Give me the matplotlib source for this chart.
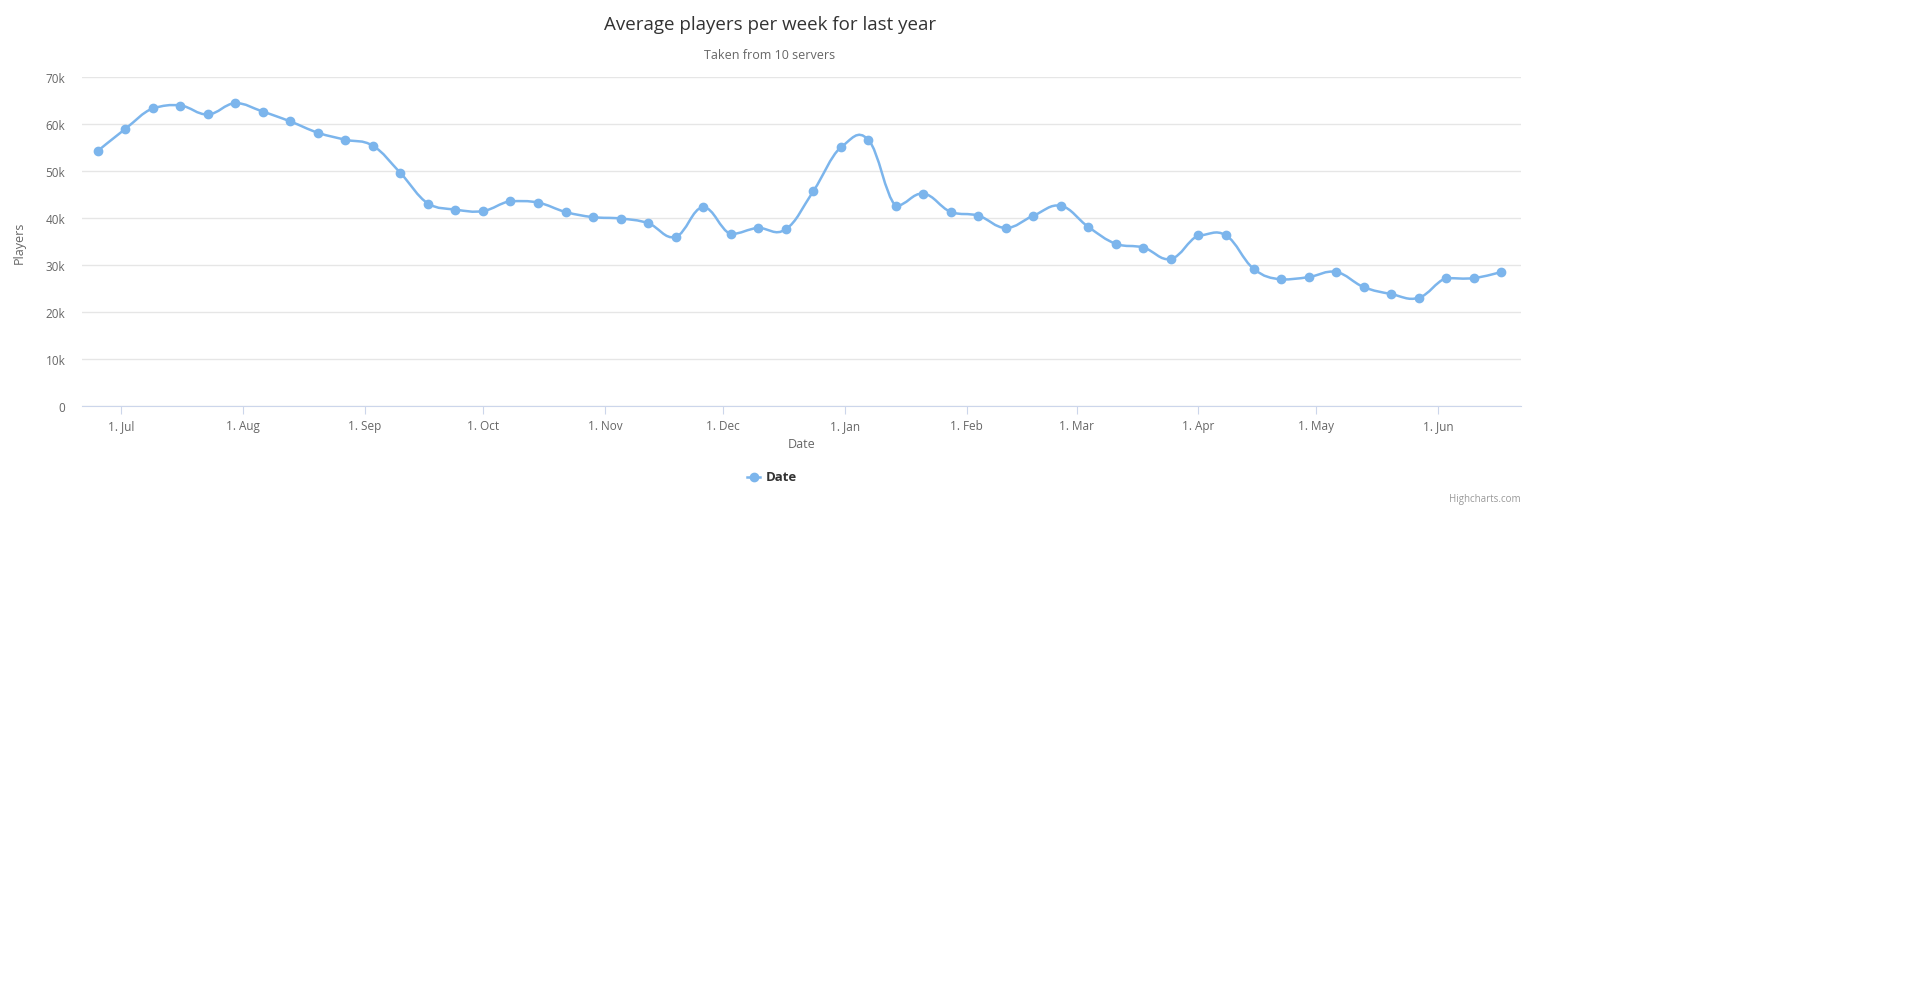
import numpy as np
import pandas as pd
import matplotlib
matplotlib.use("Agg")
import matplotlib.pyplot as plt
import matplotlib.dates as mdates
from matplotlib.path import Path
from matplotlib.patches import PathPatch

weeks = pd.date_range("2016-06-25", periods=52, freq="7D")
players = [54.3, 59.0, 63.4, 64.0, 62.1, 64.5, 62.7, 60.6, 58.2, 56.7, 55.4, 49.6,
           43.1, 41.8, 41.5, 43.6, 43.3, 41.3, 40.2, 39.9, 38.9, 36.0, 42.3, 36.6,
           37.9, 37.6, 45.7, 55.1, 56.7, 42.6, 45.2, 41.3, 40.5, 37.9, 40.5, 42.6,
           38.1, 34.5, 33.7, 31.3, 36.3, 36.3, 29.2, 26.9, 27.4, 28.5, 25.3, 23.8,
           23.0, 27.2, 27.2, 28.5]
players = [p * 1000 for p in players]

color = "#7cb5ec"
plt.rcParams["font.family"] = ["Open Sans", "DejaVu Sans"]
fig = plt.figure(figsize=(19.2, 9.87), dpi=100)
ax = fig.add_axes([0.0427, 0.588, 0.7494, 0.3326])

x = mdates.date2num(weeks)
y = np.array(players, dtype=float)

# highcharts-like spline: bezier control points, smoothing 1.5
verts = [(x[0], y[0])]
codes = [Path.MOVETO]
sm = 1.5
for i in range(1, len(x)):
    if i == 1:
        c1 = (x[0], y[0])
    else:
        lx = (sm * x[i - 1] + x[i - 2]) / (sm + 1)
        ly = (sm * y[i - 1] + y[i - 2]) / (sm + 1)
        rx = (sm * x[i - 1] + x[i]) / (sm + 1)
        ry = (sm * y[i - 1] + y[i]) / (sm + 1)
        corr = ((ry - ly) * (rx - x[i - 1])) / (rx - lx) + y[i - 1] - ry
        c1 = (rx, ry + corr)
        if (c1[1] > max(y[i - 1], y[i]) or c1[1] < min(y[i - 1], y[i])):
            c1 = (rx, max(min(c1[1], max(y[i - 1], y[i])), min(y[i - 1], y[i])))
    if i == len(x) - 1:
        c2 = (x[i], y[i])
    else:
        lx = (sm * x[i] + x[i - 1]) / (sm + 1)
        ly = (sm * y[i] + y[i - 1]) / (sm + 1)
        rx = (sm * x[i] + x[i + 1]) / (sm + 1)
        ry = (sm * y[i] + y[i + 1]) / (sm + 1)
        corr = ((ry - ly) * (lx - x[i])) / (rx - lx) + y[i] - ly
        # left control point of current
        cy = ly + ((ry - ly) * (x[i] - lx)) / (rx - lx) * 0 + (y[i] - (ly + (ry - ly) * (x[i] - lx) / (rx - lx)))
        c2 = (lx, cy)
    verts += [c1, c2, (x[i], y[i])]
    codes += [Path.CURVE4] * 3
ax.add_patch(PathPatch(Path(verts, codes), fill=False, edgecolor=color, lw=1.8))
ax.plot(weeks, players, "o", color=color, ms=6, zorder=3)

ax.set_xlim(mdates.date2num(pd.Timestamp("2016-06-21")), mdates.date2num(pd.Timestamp("2017-06-22")))
ax.set_ylim(0, 70000)
ax.set_yticks(range(0, 70001, 10000))
ax.set_yticklabels(["0"] + [f"{v}k" for v in range(10, 71, 10)])
ax.xaxis.set_major_locator(mdates.MonthLocator())
ax.xaxis.set_major_formatter(mdates.DateFormatter("1. %b"))
ax.grid(axis="y", color="#e6e6e6", lw=1)
ax.set_axisbelow(True)
for s in ["top", "right", "left"]:
    ax.spines[s].set_visible(False)
ax.spines["bottom"].set_color("#ccd6eb")
ax.tick_params(axis="y", length=0, labelsize=8.5, colors="#666666", pad=12)
ax.tick_params(axis="x", length=6, color="#ccd6eb", labelsize=8.5, labelcolor="#666666")
ax.set_xlabel("Date", fontsize=9, color="#666666")
ax.set_ylabel("Players", fontsize=9, color="#666666", labelpad=14)

fig.text(0.401, 0.975, "Average players per week for last year", ha="center", va="center",
         fontsize=13.5, color="#333333")
fig.text(0.401, 0.944, "Taken from 10 servers", ha="center", va="center", fontsize=9, color="#666666")
fig.lines.append(plt.Line2D([0.389, 0.396], [0.516, 0.516], color=color, lw=1.8, transform=fig.transFigure))
fig.lines.append(plt.Line2D([0.3925], [0.516], marker="o", ms=6, color=color, transform=fig.transFigure))
fig.text(0.399, 0.516, "Date", ha="left", va="center", fontsize=9.5, fontweight="bold", color="#333333")
fig.text(0.792, 0.494, "Highcharts.com", ha="right", va="center", fontsize=7, color="#999999")

fig.savefig("out.png", dpi=100)
